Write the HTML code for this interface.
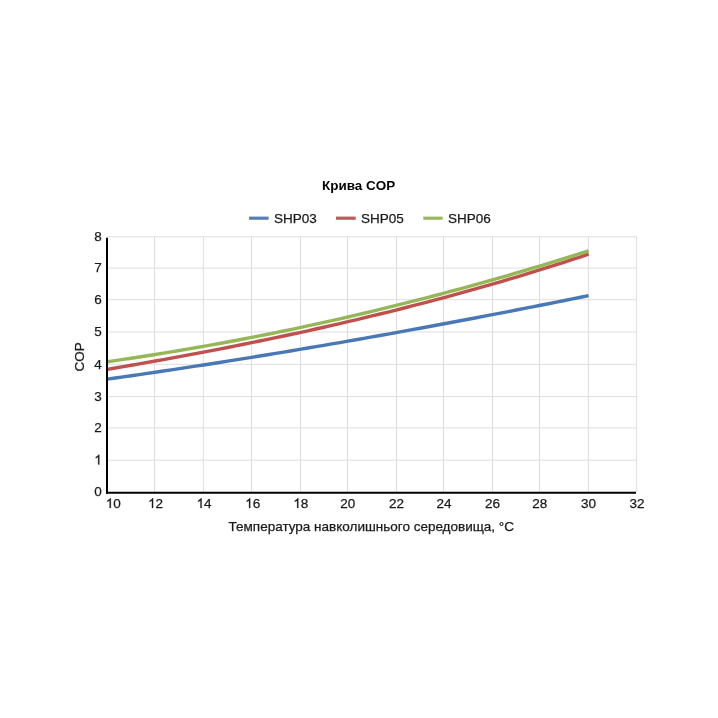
<!DOCTYPE html>
<html><head><meta charset="utf-8">
<style>
html,body{margin:0;padding:0;background:#fff;}
body{width:718px;height:718px;overflow:hidden;}
svg{display:block;filter:blur(0.35px);}
.one{fill:#1a1a1a;stroke:#1a1a1a;stroke-width:0.25px;vector-effect:non-scaling-stroke;}
text{font-family:"Liberation Sans",sans-serif;fill:#1a1a1a;stroke:#1a1a1a;stroke-width:0.25px;}
</style></head>
<body>
<svg width="718" height="718" viewBox="0 0 718 718">
<rect width="718" height="718" fill="#fff"/>
<text x="358.6" y="190" text-anchor="middle" font-weight="bold" font-size="13.45" style="fill:#000;stroke:none">Крива COP</text>
<g stroke-width="3.2" stroke-linecap="butt">
<line x1="249" y1="218.2" x2="268.6" y2="218.2" stroke="#5580b5"/>
<line x1="336" y1="218.2" x2="355.7" y2="218.2" stroke="#bd5a58"/>
<line x1="423.3" y1="218.2" x2="442.7" y2="218.2" stroke="#9bb862"/>
</g>
<g font-size="13.5">
<text x="274" y="223">SHP03</text>
<text x="361" y="223">SHP05</text>
<text x="448" y="223">SHP06</text>
</g>
<g stroke="#dedede" stroke-width="1" fill="none">
<line x1="154.55" y1="236.8" x2="154.55" y2="492" />
<line x1="203.40" y1="236.8" x2="203.40" y2="492" />
<line x1="251.50" y1="236.8" x2="251.50" y2="492" />
<line x1="300.50" y1="236.8" x2="300.50" y2="492" />
<line x1="347.50" y1="236.8" x2="347.50" y2="492" />
<line x1="396.50" y1="236.8" x2="396.50" y2="492" />
<line x1="443.50" y1="236.8" x2="443.50" y2="492" />
<line x1="492.50" y1="236.8" x2="492.50" y2="492" />
<line x1="539.50" y1="236.8" x2="539.50" y2="492" />
<line x1="588.40" y1="236.8" x2="588.40" y2="492" />
<line x1="636.60" y1="236.8" x2="636.60" y2="492" />
<line x1="107" y1="236.80" x2="636.6" y2="236.80" />
<line x1="107" y1="268.10" x2="636.6" y2="268.10" />
<line x1="107" y1="299.70" x2="636.6" y2="299.70" />
<line x1="107" y1="332.00" x2="636.6" y2="332.00" />
<line x1="107" y1="364.30" x2="636.6" y2="364.30" />
<line x1="107" y1="396.60" x2="636.6" y2="396.60" />
<line x1="107" y1="427.90" x2="636.6" y2="427.90" />
<line x1="107" y1="460.20" x2="636.6" y2="460.20" />
</g>
<g font-size="13.5">
<text x="94.29" y="496.10">0</text>
<path class="one" transform="translate(94.29,464.40) scale(0.006592,-0.006592)" d="M763 0H583V1147Q518 1085 412.5 1023Q307 961 223 930V1104Q374 1175 487 1276Q600 1377 647 1472H763Z"/>
<text x="94.29" y="432.10">2</text>
<text x="94.29" y="400.80">3</text>
<text x="94.29" y="368.50">4</text>
<text x="94.29" y="336.20">5</text>
<text x="94.29" y="303.90">6</text>
<text x="94.29" y="272.30">7</text>
<text x="94.29" y="241.00">8</text>
<path class="one" transform="translate(105.80,508.00) scale(0.006592,-0.006592)" d="M763 0H583V1147Q518 1085 412.5 1023Q307 961 223 930V1104Q374 1175 487 1276Q600 1377 647 1472H763Z"/>
<text x="113.31" y="508.00">0</text>
<path class="one" transform="translate(148.09,508.00) scale(0.006592,-0.006592)" d="M763 0H583V1147Q518 1085 412.5 1023Q307 961 223 930V1104Q374 1175 487 1276Q600 1377 647 1472H763Z"/>
<text x="155.60" y="508.00">2</text>
<path class="one" transform="translate(196.59,508.00) scale(0.006592,-0.006592)" d="M763 0H583V1147Q518 1085 412.5 1023Q307 961 223 930V1104Q374 1175 487 1276Q600 1377 647 1472H763Z"/>
<text x="204.10" y="508.00">4</text>
<path class="one" transform="translate(245.19,508.00) scale(0.006592,-0.006592)" d="M763 0H583V1147Q518 1085 412.5 1023Q307 961 223 930V1104Q374 1175 487 1276Q600 1377 647 1472H763Z"/>
<text x="252.70" y="508.00">6</text>
<path class="one" transform="translate(293.29,508.00) scale(0.006592,-0.006592)" d="M763 0H583V1147Q518 1085 412.5 1023Q307 961 223 930V1104Q374 1175 487 1276Q600 1377 647 1472H763Z"/>
<text x="300.80" y="508.00">8</text>
<text x="340.29" y="508.00">20</text>
<text x="388.89" y="508.00">22</text>
<text x="436.39" y="508.00">24</text>
<text x="484.89" y="508.00">26</text>
<text x="532.29" y="508.00">28</text>
<text x="581.09" y="508.00">30</text>
<text x="629.49" y="508.00">32</text>
<text x="371.3" y="531.1" text-anchor="middle">Температура навколишнього середовища, °C</text>
<text transform="translate(84.2,356.9) rotate(-90)" text-anchor="middle">COP</text>
</g>
<g fill="none" stroke-width="3.4" stroke-linejoin="round" stroke-linecap="butt">
<path d="M107.20,379.14 L115.22,378.01 L123.25,376.87 L131.27,375.72 L139.29,374.56 L147.32,373.40 L155.34,372.22 L163.36,371.03 L171.39,369.83 L179.41,368.63 L187.43,367.41 L195.46,366.19 L203.48,364.95 L211.50,363.71 L219.53,362.45 L227.55,361.19 L235.57,359.91 L243.60,358.63 L251.62,357.34 L259.64,356.04 L267.67,354.73 L275.69,353.41 L283.71,352.09 L291.74,350.75 L299.76,349.41 L307.78,348.05 L315.81,346.69 L323.83,345.32 L331.85,343.94 L339.88,342.56 L347.90,341.16 L355.92,339.76 L363.95,338.34 L371.97,336.92 L379.99,335.49 L388.02,334.06 L396.04,332.61 L404.06,331.16 L412.09,329.70 L420.11,328.23 L428.13,326.75 L436.16,325.27 L444.18,323.78 L452.20,322.28 L460.23,320.77 L468.25,319.25 L476.27,317.73 L484.30,316.20 L492.32,314.67 L500.34,313.12 L508.37,311.57 L516.39,310.01 L524.41,308.44 L532.44,306.87 L540.46,305.29 L548.48,303.71 L556.51,302.11 L564.53,300.51 L572.55,298.90 L580.58,297.29 L588.60,295.67" stroke="#4878b5"/>
<path d="M107.20,369.32 L115.22,367.97 L123.25,366.60 L131.27,365.22 L139.29,363.83 L147.32,362.42 L155.34,360.99 L163.36,359.56 L171.39,358.10 L179.41,356.63 L187.43,355.15 L195.46,353.65 L203.48,352.13 L211.50,350.60 L219.53,349.05 L227.55,347.48 L235.57,345.90 L243.60,344.29 L251.62,342.67 L259.64,341.03 L267.67,339.37 L275.69,337.70 L283.71,336.00 L291.74,334.28 L299.76,332.55 L307.78,330.79 L315.81,329.01 L323.83,327.22 L331.85,325.40 L339.88,323.56 L347.90,321.69 L355.92,319.81 L363.95,317.90 L371.97,315.97 L379.99,314.02 L388.02,312.04 L396.04,310.04 L404.06,308.02 L412.09,305.97 L420.11,303.90 L428.13,301.80 L436.16,299.68 L444.18,297.54 L452.20,295.36 L460.23,293.16 L468.25,290.94 L476.27,288.69 L484.30,286.41 L492.32,284.10 L500.34,281.77 L508.37,279.41 L516.39,277.02 L524.41,274.60 L532.44,272.15 L540.46,269.67 L548.48,267.17 L556.51,264.63 L564.53,262.07 L572.55,259.47 L580.58,256.85 L588.60,254.19" stroke="#c0504d"/>
<path d="M107.20,361.72 L115.22,360.57 L123.25,359.39 L131.27,358.20 L139.29,356.98 L147.32,355.73 L155.34,354.46 L163.36,353.17 L171.39,351.86 L179.41,350.52 L187.43,349.16 L195.46,347.77 L203.48,346.36 L211.50,344.93 L219.53,343.48 L227.55,342.00 L235.57,340.49 L243.60,338.97 L251.62,337.41 L259.64,335.84 L267.67,334.24 L275.69,332.62 L283.71,330.98 L291.74,329.31 L299.76,327.62 L307.78,325.90 L315.81,324.16 L323.83,322.40 L331.85,320.61 L339.88,318.80 L347.90,316.97 L355.92,315.11 L363.95,313.23 L371.97,311.32 L379.99,309.39 L388.02,307.44 L396.04,305.46 L404.06,303.46 L412.09,301.44 L420.11,299.39 L428.13,297.32 L436.16,295.23 L444.18,293.11 L452.20,290.97 L460.23,288.80 L468.25,286.61 L476.27,284.40 L484.30,282.16 L492.32,279.90 L500.34,277.62 L508.37,275.31 L516.39,272.98 L524.41,270.62 L532.44,268.24 L540.46,265.84 L548.48,263.41 L556.51,260.96 L564.53,258.49 L572.55,255.99 L580.58,253.47 L588.60,250.92" stroke="#96b756"/>
</g>
<g stroke="#000" stroke-width="2" fill="none">
<line x1="107" y1="237.8" x2="107" y2="493.8"/>
<line x1="106" y1="492.8" x2="636" y2="492.8"/>
</g>
</svg>
</body></html>
